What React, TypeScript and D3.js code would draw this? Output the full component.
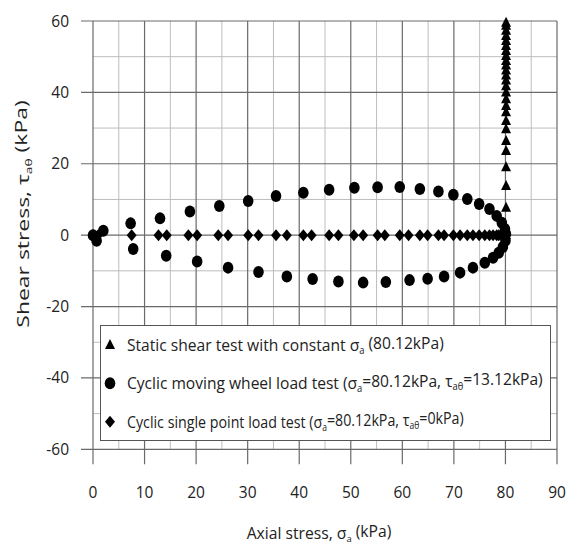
import React, { useLayoutEffect, useRef, useState } from 'react';
import * as d3 from 'd3';

// Static shear test (triangles): constant axial stress, increasing shear
const staticShearX = 80.12;
const staticShearY = [0, 7.7, 13.8, 19.0, 23.6, 26.4, 29.7, 32.0, 34.4, 36.2, 38.1, 40.0, 41.7, 43.3, 44.7, 46.1, 47.5, 48.8, 50.2, 51.6, 53.0, 54.4, 55.8, 57.3, 58.7, 59.5];

// Cyclic moving wheel load test (circles)
const wheelUpperX = [0, 2.0, 7.3, 13.0, 18.8, 24.5, 30.1, 35.5, 40.8, 45.8, 50.7, 55.2, 59.5, 63.4, 67.0, 69.9, 72.6, 74.9, 76.9, 78.3, 79.3, 79.9, 80.1];
const wheelUpperY = [0, 1.2, 3.3, 4.7, 6.6, 8.2, 9.6, 11.0, 11.9, 12.7, 13.3, 13.4, 13.5, 12.9, 12.2, 11.3, 10.1, 8.7, 7.3, 5.4, 3.5, 1.7, 0.3];
const wheelLowerX = [0.7, 7.8, 14.2, 20.2, 26.2, 32.1, 37.6, 42.6, 47.6, 52.4, 56.8, 61.4, 64.9, 68.1, 71.2, 73.7, 76.0, 77.6, 78.7, 79.5, 80.0];
const wheelLowerY = [-1.6, -3.9, -5.8, -7.4, -9.1, -10.3, -11.6, -12.3, -13.0, -13.3, -13.1, -12.6, -12.2, -11.6, -10.5, -9.1, -7.7, -6.3, -4.9, -3.3, -1.6];

// Cyclic single point load test (diamonds), shear = 0
const pointX = [0, 1.0, 7.5, 12.7, 14.3, 18.5, 20.2, 24.3, 26.2, 30.1, 32.1, 35.5, 37.6, 40.8, 42.4, 45.8, 47.6, 50.6, 52.4, 55.2, 56.6, 59.5, 61.2, 63.4, 64.9, 67.0, 68.1, 69.9, 71.2, 72.6, 73.7, 74.9, 76.0, 76.9, 77.6, 78.3, 78.7, 79.3, 79.5, 80.0];
const pointY = pointX.map(() => 0);

const xTicks = [0, 10, 20, 30, 40, 50, 60, 70, 80, 90];
const yTicks = [-60, -40, -20, 0, 20, 40, 60];
const xMinor = [5, 15, 25, 35, 45, 55, 65, 75, 85];
const yMinor = [-50, -30, -10, 10, 30, 50];

const W = 573, H = 548;
const x = d3.scaleLinear().domain([0, 90]).range([93, 557]);
const y = d3.scaleLinear().domain([-60, 60]).range([449.3, 21]);

const FONT = "'Open Sans', 'DejaVu Sans', sans-serif";
const TEXT = '#222';
const MAJOR = '#6a6a6a';
const MINOR = '#bdbdbd';

const tri = (cx: number, cy: number, s = 10) =>
  `M${cx},${cy - s * 0.6}L${cx + s / 2},${cy + s * 0.4}L${cx - s / 2},${cy + s * 0.4}Z`;
const dia = (cx: number, cy: number, w = 10, h = 12) =>
  `M${cx},${cy - h / 2}L${cx + w / 2},${cy}L${cx},${cy + h / 2}L${cx - w / 2},${cy}Z`;

const Sub = ({ t }: { t: string }) => (
  <tspan fontSize="0.6em" dy="0.3em">{t}</tspan>
);

// Text squeezed horizontally to a target width (reference font is condensed)
function FitText({ tx, ty, rotate = 0, len, anchor = 'start', fontSize, children }:
  { tx: number; ty: number; rotate?: number; len: number; anchor?: string; fontSize: number; children: React.ReactNode }) {
  const ref = useRef<SVGTextElement>(null);
  const [s, setS] = useState(1);
  useLayoutEffect(() => {
    if (ref.current) {
      const w = ref.current.getBBox().width;
      if (w > 0) setS(len / w);
    }
  }, [len]);
  return (
    <g transform={`translate(${tx},${ty}) rotate(${rotate}) scale(${s},1)`}>
      <text ref={ref} x={0} y={0} textAnchor={anchor} fontSize={fontSize} fill={TEXT}>{children}</text>
    </g>
  );
}

export default function App() {
  const legendRows = [
    { kind: 'tri', len: 317, content: (<>Static shear test with constant σ<Sub t="a" /><tspan dy="-0.3em"> (80.12kPa)</tspan></>) },
    { kind: 'cir', len: 416, content: (<>Cyclic moving wheel load test (σ<Sub t="a" /><tspan dy="-0.3em">=80.12kPa, τ</tspan><Sub t="aθ" /><tspan dy="-0.3em">=13.12kPa)</tspan></>) },
    { kind: 'dia', len: 337, content: (<>Cyclic single point load test (σ<Sub t="a" /><tspan dy="-0.3em">=80.12kPa, τ</tspan><Sub t="aθ" /><tspan dy="-0.3em">=0kPa)</tspan></>) },
  ];
  const rowY = [345, 383.3, 421.7];
  return (
    <svg width={W} height={H} style={{ position: 'absolute', left: 0, top: 0, background: '#fff' }} fontFamily={FONT}>
      <rect x={0} y={0} width={W} height={H} fill="#fff" />
      {/* minor grid */}
      {xMinor.map(v => (
        <line key={'xm' + v} x1={x(v)} x2={x(v)} y1={y(60)} y2={y(-60)} stroke={MINOR} strokeWidth={1} />
      ))}
      {yMinor.map(v => (
        <line key={'ym' + v} x1={x(0)} x2={x(90)} y1={y(v)} y2={y(v)} stroke={MINOR} strokeWidth={1} />
      ))}
      {/* major grid + ticks */}
      {xTicks.map(v => (
        <line key={'xM' + v} x1={x(v)} x2={x(v)} y1={y(60)} y2={y(-60) + 15} stroke={MAJOR} strokeWidth={1.2} />
      ))}
      {yTicks.map(v => (
        <line key={'yM' + v} x1={x(0) - 12} x2={x(90)} y1={y(v)} y2={y(v)} stroke={MAJOR} strokeWidth={1.2} />
      ))}
      {/* tick labels */}
      {xTicks.map(v => (
        <text key={'xt' + v} x={x(v)} y={498} textAnchor="middle" fontSize={15.5} fill={TEXT}>{v}</text>
      ))}
      {yTicks.map(v => (
        <text key={'yt' + v} x={69} y={y(v) + 5.5} textAnchor="end" fontSize={15.5} fill={TEXT}>{v}</text>
      ))}
      {/* axis titles */}
      <FitText tx={319} ty={539} len={145} anchor="middle" fontSize={16}>
        Axial stress, σ<Sub t="a" /><tspan dy="-0.3em"> (kPa)</tspan>
      </FitText>
      <FitText tx={29} ty={214} rotate={-90} len={228} anchor="middle" fontSize={16}>
        Shear stress, τ<Sub t="aθ" /><tspan dy="-0.3em"> (kPa)</tspan>
      </FitText>
      {/* data: diamonds */}
      {pointX.map((v, i) => (
        <path key={'d' + i} d={dia(x(v), y(pointY[i]))} fill="#000" />
      ))}
      {/* data: circles */}
      {wheelUpperX.map((v, i) => (
        <ellipse key={'cu' + i} cx={x(v)} cy={y(wheelUpperY[i])} rx={5.3} ry={6} fill="#000" />
      ))}
      {wheelLowerX.map((v, i) => (
        <ellipse key={'cl' + i} cx={x(v)} cy={y(wheelLowerY[i])} rx={5.3} ry={6} fill="#000" />
      ))}
      {/* data: triangles */}
      {staticShearY.map((v, i) => (
        <path key={'t' + i} d={tri(x(staticShearX), y(v))} fill="#000" />
      ))}
      {/* legend */}
      <rect x={100.5} y={325.5} width={450} height={115} fill="#fff" stroke="#555" strokeWidth={1} />
      {legendRows.map((r, i) => {
        const cy = rowY[i];
        return (
          <g key={'lg' + i}>
            {r.kind === 'tri' && <path d={tri(110, cy, 10)} fill="#000" />}
            {r.kind === 'cir' && <ellipse cx={110} cy={cy} rx={5.3} ry={6} fill="#000" />}
            {r.kind === 'dia' && <path d={dia(110, cy)} fill="#000" />}
            <FitText tx={127} ty={cy + 6} len={r.len} fontSize={17}>{r.content}</FitText>
          </g>
        );
      })}
    </svg>
  );
}
